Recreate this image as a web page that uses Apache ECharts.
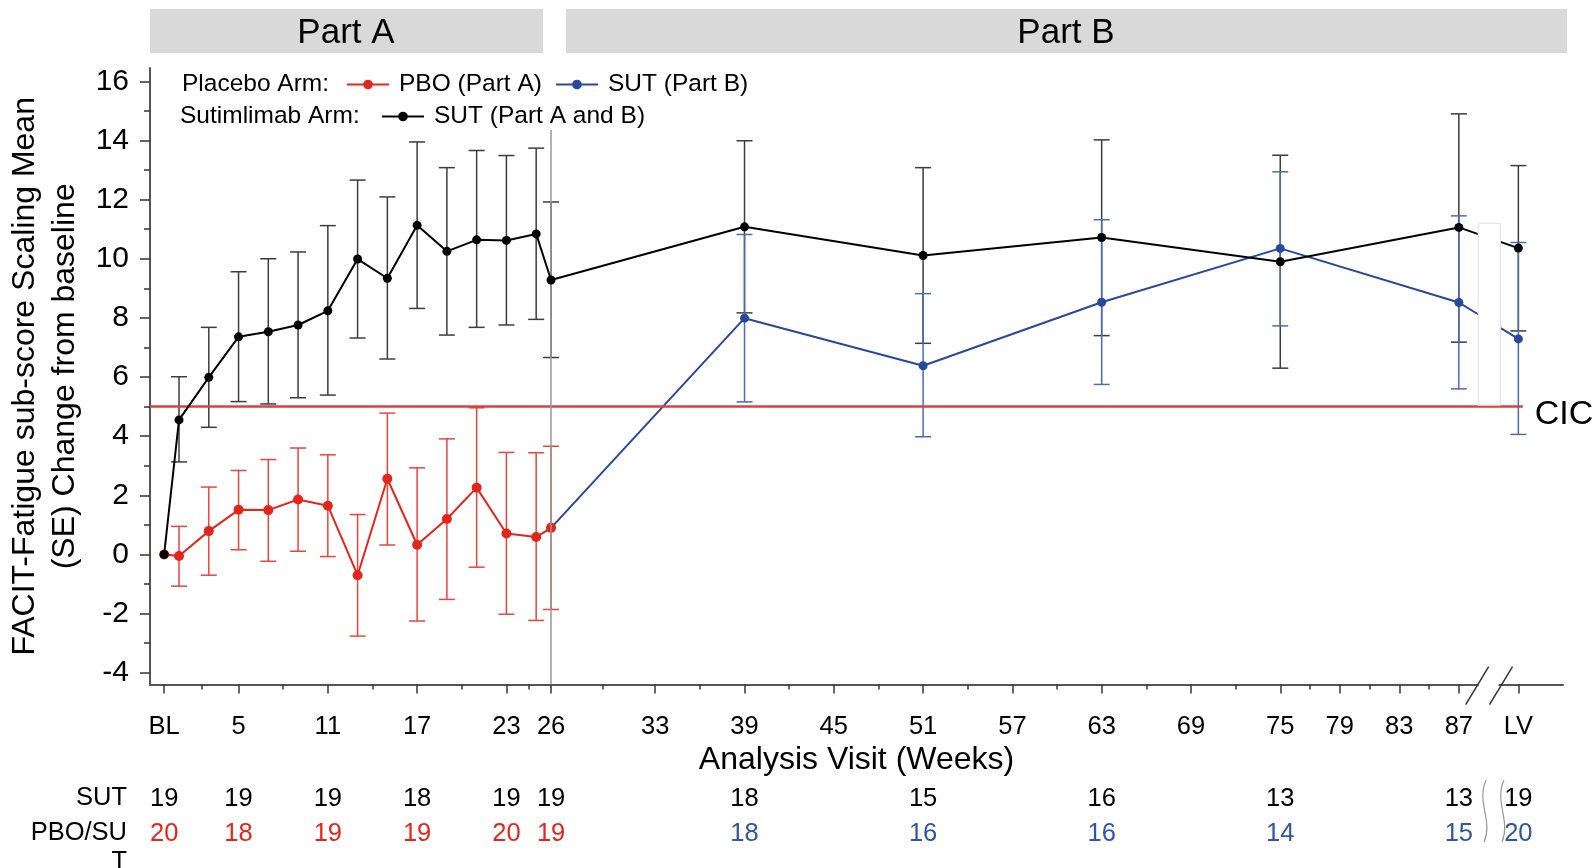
<!DOCTYPE html>
<html>
<head>
<meta charset="utf-8">
<script src="https://cdn.jsdelivr.net/npm/echarts@6/dist/echarts.min.js"></script>
<style>html,body{margin:0;padding:0;background:#fff}#c{width:1595px;height:868px}</style>
</head>
<body>
<div id="c"></div>
<script>
// ---- data ----
const sutWeeks = [0,1,3,5,7,9,11,13,15,17,19,21,23,25,26,39,51,63,75,87,91];
const sutMean  = [0,4.55,5.99,7.36,7.53,7.76,8.24,9.99,9.34,11.13,10.25,10.64,10.62,10.84,9.28,11.08,10.11,10.72,9.90,11.06,10.36];
const sutLow   = [null,3.13,4.30,5.17,5.09,5.30,5.39,7.32,6.61,8.32,7.42,7.68,7.76,7.95,6.66,8.17,7.14,7.40,6.30,7.18,7.56];
const sutHigh  = [null,6.01,7.68,9.56,10.00,10.23,11.12,12.66,12.09,13.95,13.08,13.66,13.49,13.74,11.92,13.99,13.08,14.02,13.50,14.90,13.15];

const pboWeeks = [0,1,3,5,7,9,11,13,15,17,19,21,23,25,26];
const pboMean  = [0,-0.05,0.79,1.51,1.50,1.86,1.65,-0.70,2.56,0.33,1.20,2.26,0.71,0.59,0.90];
const pboLow   = [null,-1.07,-0.70,0.16,-0.23,0.11,-0.07,-2.76,0.32,-2.25,-1.52,-0.43,-2.02,-2.23,-1.86];
const pboHigh  = [null,0.95,2.28,2.84,3.21,3.60,3.37,1.35,4.78,2.93,3.91,4.96,3.45,3.44,3.66];

const sutBWeeks = [26,39,51,63,75,87,91];
const sutBMean  = [0.90,7.99,6.38,8.53,10.35,8.52,7.29];
const sutBLow   = [null,5.16,3.98,5.75,7.73,5.60,4.06];
const sutBHigh  = [null,10.82,8.82,11.32,12.94,11.45,10.55];

const xLabelValues = [0,5,11,17,23,26,33,39,45,51,57,63,69,75,79,83,87,91];
const xLabelText   = ['BL','5','11','17','23','26','33','39','45','51','57','63','69','75','79','83','87','LV'];
const xMinorTicks  = [2.5,8,14,20,24.5,29.5,36,42,48,54,60,66,72,77,81,85];
const yLabelValues = [-4,-2,0,2,4,6,8,10,12,14,16];
const yMinorTicks  = [-3,-1,1,3,5,7,9,11,13,15];

const countWeeks = [0,5,11,17,23,26,39,51,63,75,87,91];
const sutN = [19,19,19,18,19,19,18,15,16,13,13,19];
const pboN = [20,18,19,19,20,19,18,16,16,14,15,20];

const cicValue = 5;
const cicEndWeek = 91.3;
const partSplitWeek = 26;

// ---- style ----
const FONT = '"Liberation Sans", Arial, sans-serif';
const RED = '#e3261b', BLUE = '#27489b', BLACK = '#000000';
const X_MIN = -0.95, X_MAX = 94, Y_MIN = -4.4, Y_MAX = 16.45;

function pairs(xs, ys){ return xs.map((x,i)=>[x, ys[i]]); }
function errData(xs, lo, hi){ return xs.map((x,i)=> lo[i]==null ? null : [x, lo[i], hi[i]]).filter(Boolean); }
function errSeries(name, xs, lo, hi, color, z){
  return {
    type:'custom', name, z, silent:true, xAxisIndex:0, yAxisIndex:0,
    data: errData(xs, lo, hi),
    encode:{x:0, y:[1,2]},
    renderItem(params, api){
      const x = api.value(0);
      const p1 = api.coord([x, api.value(1)]);
      const p2 = api.coord([x, api.value(2)]);
      const hw = 8;
      const st = {stroke:color, lineWidth:1.5};
      return {type:'group', children:[
        {type:'line', shape:{x1:p1[0], y1:p1[1], x2:p2[0], y2:p2[1]}, style:st},
        {type:'line', shape:{x1:p1[0]-hw, y1:p1[1], x2:p1[0]+hw, y2:p1[1]}, style:st},
        {type:'line', shape:{x1:p2[0]-hw, y1:p2[1], x2:p2[0]+hw, y2:p2[1]}, style:st}
      ]};
    }
  };
}

const baseX = {type:'value', min:X_MIN, max:X_MAX, position:'bottom', splitLine:{show:false}};
const chart = echarts.init(document.getElementById('c'));
const option = {
  animation:false,
  textStyle:{fontFamily:FONT},
  grid:{left:150, right:32, top:68, bottom:183.4, containLabel:false, outerBoundsMode:'none'},
  legend:[
    {data:['PBO (Part A)','SUT (Part B)'], left:346, top:72, padding:0, itemGap:13, itemWidth:42, itemHeight:12,
     textStyle:{fontSize:24.5, color:'#000', fontFamily:FONT, padding:[0,0,0,5]}, selectedMode:false},
    {data:['SUT (Part A and B)'], left:381, top:104, padding:0, itemWidth:42, itemHeight:12,
     textStyle:{fontSize:24.5, color:'#000', fontFamily:FONT, padding:[0,0,0,5]}, selectedMode:false}
  ],
  xAxis:[
    Object.assign({}, baseX, {
      axisLine:{show:true, onZero:false, lineStyle:{color:'#555', width:2}},
      axisTick:{show:true, customValues:xLabelValues, length:9, lineStyle:{color:'#333', width:1.5}},
      axisLabel:{show:true, customValues:xLabelValues, margin:29, fontSize:25.5, color:'#000',
        formatter:(v)=>{ const i = xLabelValues.indexOf(v); return i<0 ? '' : xLabelText[i]; }},
      name:'Analysis Visit (Weeks)', nameLocation:'middle', nameGap:53,
      nameTextStyle:{fontSize:32, color:'#000', fontFamily:FONT}
    }),
    Object.assign({}, baseX, {
      axisLine:{show:false, onZero:false},
      axisTick:{show:true, customValues:xMinorTicks, length:5, lineStyle:{color:'#333', width:1.5}},
      axisLabel:{show:false}
    }),
    Object.assign({}, baseX, {
      axisLine:{show:false, onZero:false}, axisTick:{show:false},
      axisLabel:{show:true, customValues:countWeeks, margin:101, fontSize:25.5, color:'#000',
        formatter:(v)=>{ const i = countWeeks.indexOf(v); return i<0 ? '' : String(sutN[i]); }}
    }),
    Object.assign({}, baseX, {
      axisLine:{show:false, onZero:false}, axisTick:{show:false},
      axisLabel:{show:true, customValues:countWeeks, margin:136, fontSize:25.5,
        formatter:(v)=>{ const i = countWeeks.indexOf(v); if(i<0) return ''; return (v<=partSplitWeek ? '{r|' : '{b|') + pboN[i] + '}'; },
        rich:{r:{color:RED, fontSize:25.5, fontFamily:FONT}, b:{color:'#2f55a5', fontSize:25.5, fontFamily:FONT}}}
    })
  ],
  yAxis:[
    {type:'value', min:Y_MIN, max:Y_MAX, position:'left', splitLine:{show:false},
     axisLine:{show:true, onZero:false, lineStyle:{color:'#555', width:2}},
     axisTick:{show:true, customValues:yLabelValues, length:10, lineStyle:{color:'#333', width:1.5}},
     axisLabel:{show:true, customValues:yLabelValues, margin:21, fontSize:30, color:'#000'},
     name:'FACIT-Fatigue sub-score Scaling Mean\n(SE) Change from baseline', nameLocation:'middle', nameRotate:90, nameGap:62,
     nameTextStyle:{fontSize:32, lineHeight:40, color:'#000', fontFamily:FONT}},
    {type:'value', min:Y_MIN, max:Y_MAX, position:'left', splitLine:{show:false},
     axisLine:{show:false, onZero:false},
     axisTick:{show:true, customValues:yMinorTicks, length:6, lineStyle:{color:'#333', width:1.5}},
     axisLabel:{show:false}}
  ],
  series:[
    errSeries('errSUT', sutWeeks, sutLow, sutHigh, '#3c3c3c', 2),
    errSeries('errSUTB', sutBWeeks, sutBLow, sutBHigh, '#4a6cb3', 2),
    errSeries('errPBO', pboWeeks, pboLow, pboHigh, '#e4463e', 2),
    {type:'line', name:'SUT (Part B)', data:pairs(sutBWeeks, sutBMean), z:3,
     symbol:'circle', symbolSize:9, showAllSymbol:true,
     itemStyle:{color:BLUE}, lineStyle:{color:BLUE, width:2}},
    {type:'line', name:'PBO (Part A)', data:pairs(pboWeeks, pboMean), z:4,
     symbol:'circle', symbolSize:10, showAllSymbol:true,
     itemStyle:{color:RED}, lineStyle:{color:RED, width:2},
     markLine:{silent:true, symbol:'none', animation:false, label:{show:false},
       data:[
         [{coord:[X_MIN, cicValue], lineStyle:{color:'#d8433c', width:2.5, type:'solid'}, label:{show:false}},
          {coord:[cicEndWeek, cicValue]}],
         [{coord:[partSplitWeek, Y_MIN], lineStyle:{color:'#9a9a9a', width:1.5, type:'solid'}, label:{show:false}},
          {coord:[partSplitWeek, 14.35]}]
       ]}},
    {type:'line', name:'SUT (Part A and B)', data:pairs(sutWeeks, sutMean), z:5,
     symbol:'circle', symbolSize:9, showAllSymbol:true,
     itemStyle:{color:BLACK}, lineStyle:{color:BLACK, width:2}}
  ]
};
chart.setOption(option);

// ---- decorations (layout) ----
const px = (x,y)=>chart.convertToPixel({xAxisIndex:0, yAxisIndex:0}, [x,y]);
const bTL = px(88.3, 11.2), bBR = px(89.8, 5.05);
const axisY = px(0, Y_MIN)[1];
const s1 = px(88.2, Y_MIN)[0], s2 = px(89.8, Y_MIN)[0];
const w1 = px(88.7, 0)[0], w2 = px(89.9, 0)[0];
const cicPt = px(cicEndWeek, cicValue);
function wave(x){ return {type:'bezierCurve', z:100, shape:{x1:x+2, y1:780, x2:x, y2:842, cpx1:x-8, cpy1:802, cpx2:x+9, cpy2:820}, style:{stroke:'#999', lineWidth:1.2, fill:null}}; }
chart.setOption({graphic:[
  {type:'rect', z:100, shape:{x:150, y:9, width:393, height:44}, style:{fill:'#d9d9d9'}},
  {type:'rect', z:100, shape:{x:566, y:9, width:1001, height:44}, style:{fill:'#d9d9d9'}},
  {type:'text', z:101, x:346, y:33, style:{text:'Part A', font:'35px '+FONT, fill:'#000', align:'center', verticalAlign:'middle'}},
  {type:'text', z:101, x:1066, y:33, style:{text:'Part B', font:'35px '+FONT, fill:'#000', align:'center', verticalAlign:'middle'}},
  {type:'text', z:101, x:182, y:84, style:{text:'Placebo Arm:', font:'24.5px '+FONT, fill:'#000', align:'left', verticalAlign:'middle'}},
  {type:'text', z:101, x:180, y:116, style:{text:'Sutimlimab Arm:', font:'24.5px '+FONT, fill:'#000', align:'left', verticalAlign:'middle'}},
  {type:'text', z:101, x:cicPt[0]+12, y:cicPt[1]+8, style:{text:'CIC', font:'34px '+FONT, fill:'#000', align:'left', verticalAlign:'middle'}},
  {type:'text', z:101, x:127, y:798, style:{text:'SUT', font:'25.5px '+FONT, fill:'#000', align:'right', verticalAlign:'middle'}},
  {type:'text', z:101, x:127, y:833, style:{text:'PBO/SU', font:'25.5px '+FONT, fill:'#000', align:'right', verticalAlign:'middle'}},
  {type:'text', z:101, x:127, y:862, style:{text:'T', font:'25.5px '+FONT, fill:'#000', align:'right', verticalAlign:'middle'}},
  {type:'rect', z:100, shape:{x:bTL[0], y:bTL[1], width:bBR[0]-bTL[0], height:bBR[1]-bTL[1]}, style:{fill:'#fff', stroke:'#e2e2e2', lineWidth:1}},
  {type:'rect', z:100, shape:{x:s1+2, y:axisY-3, width:s2-s1-4, height:6}, style:{fill:'#fff'}},
  {type:'line', z:101, shape:{x1:s1-11, y1:axisY+20, x2:s1+12, y2:axisY-18}, style:{stroke:'#333', lineWidth:1.5}},
  {type:'line', z:101, shape:{x1:s2-11, y1:axisY+20, x2:s2+12, y2:axisY-18}, style:{stroke:'#333', lineWidth:1.5}},
  wave(w1), wave(w2)
]});
</script>
</body>
</html>
